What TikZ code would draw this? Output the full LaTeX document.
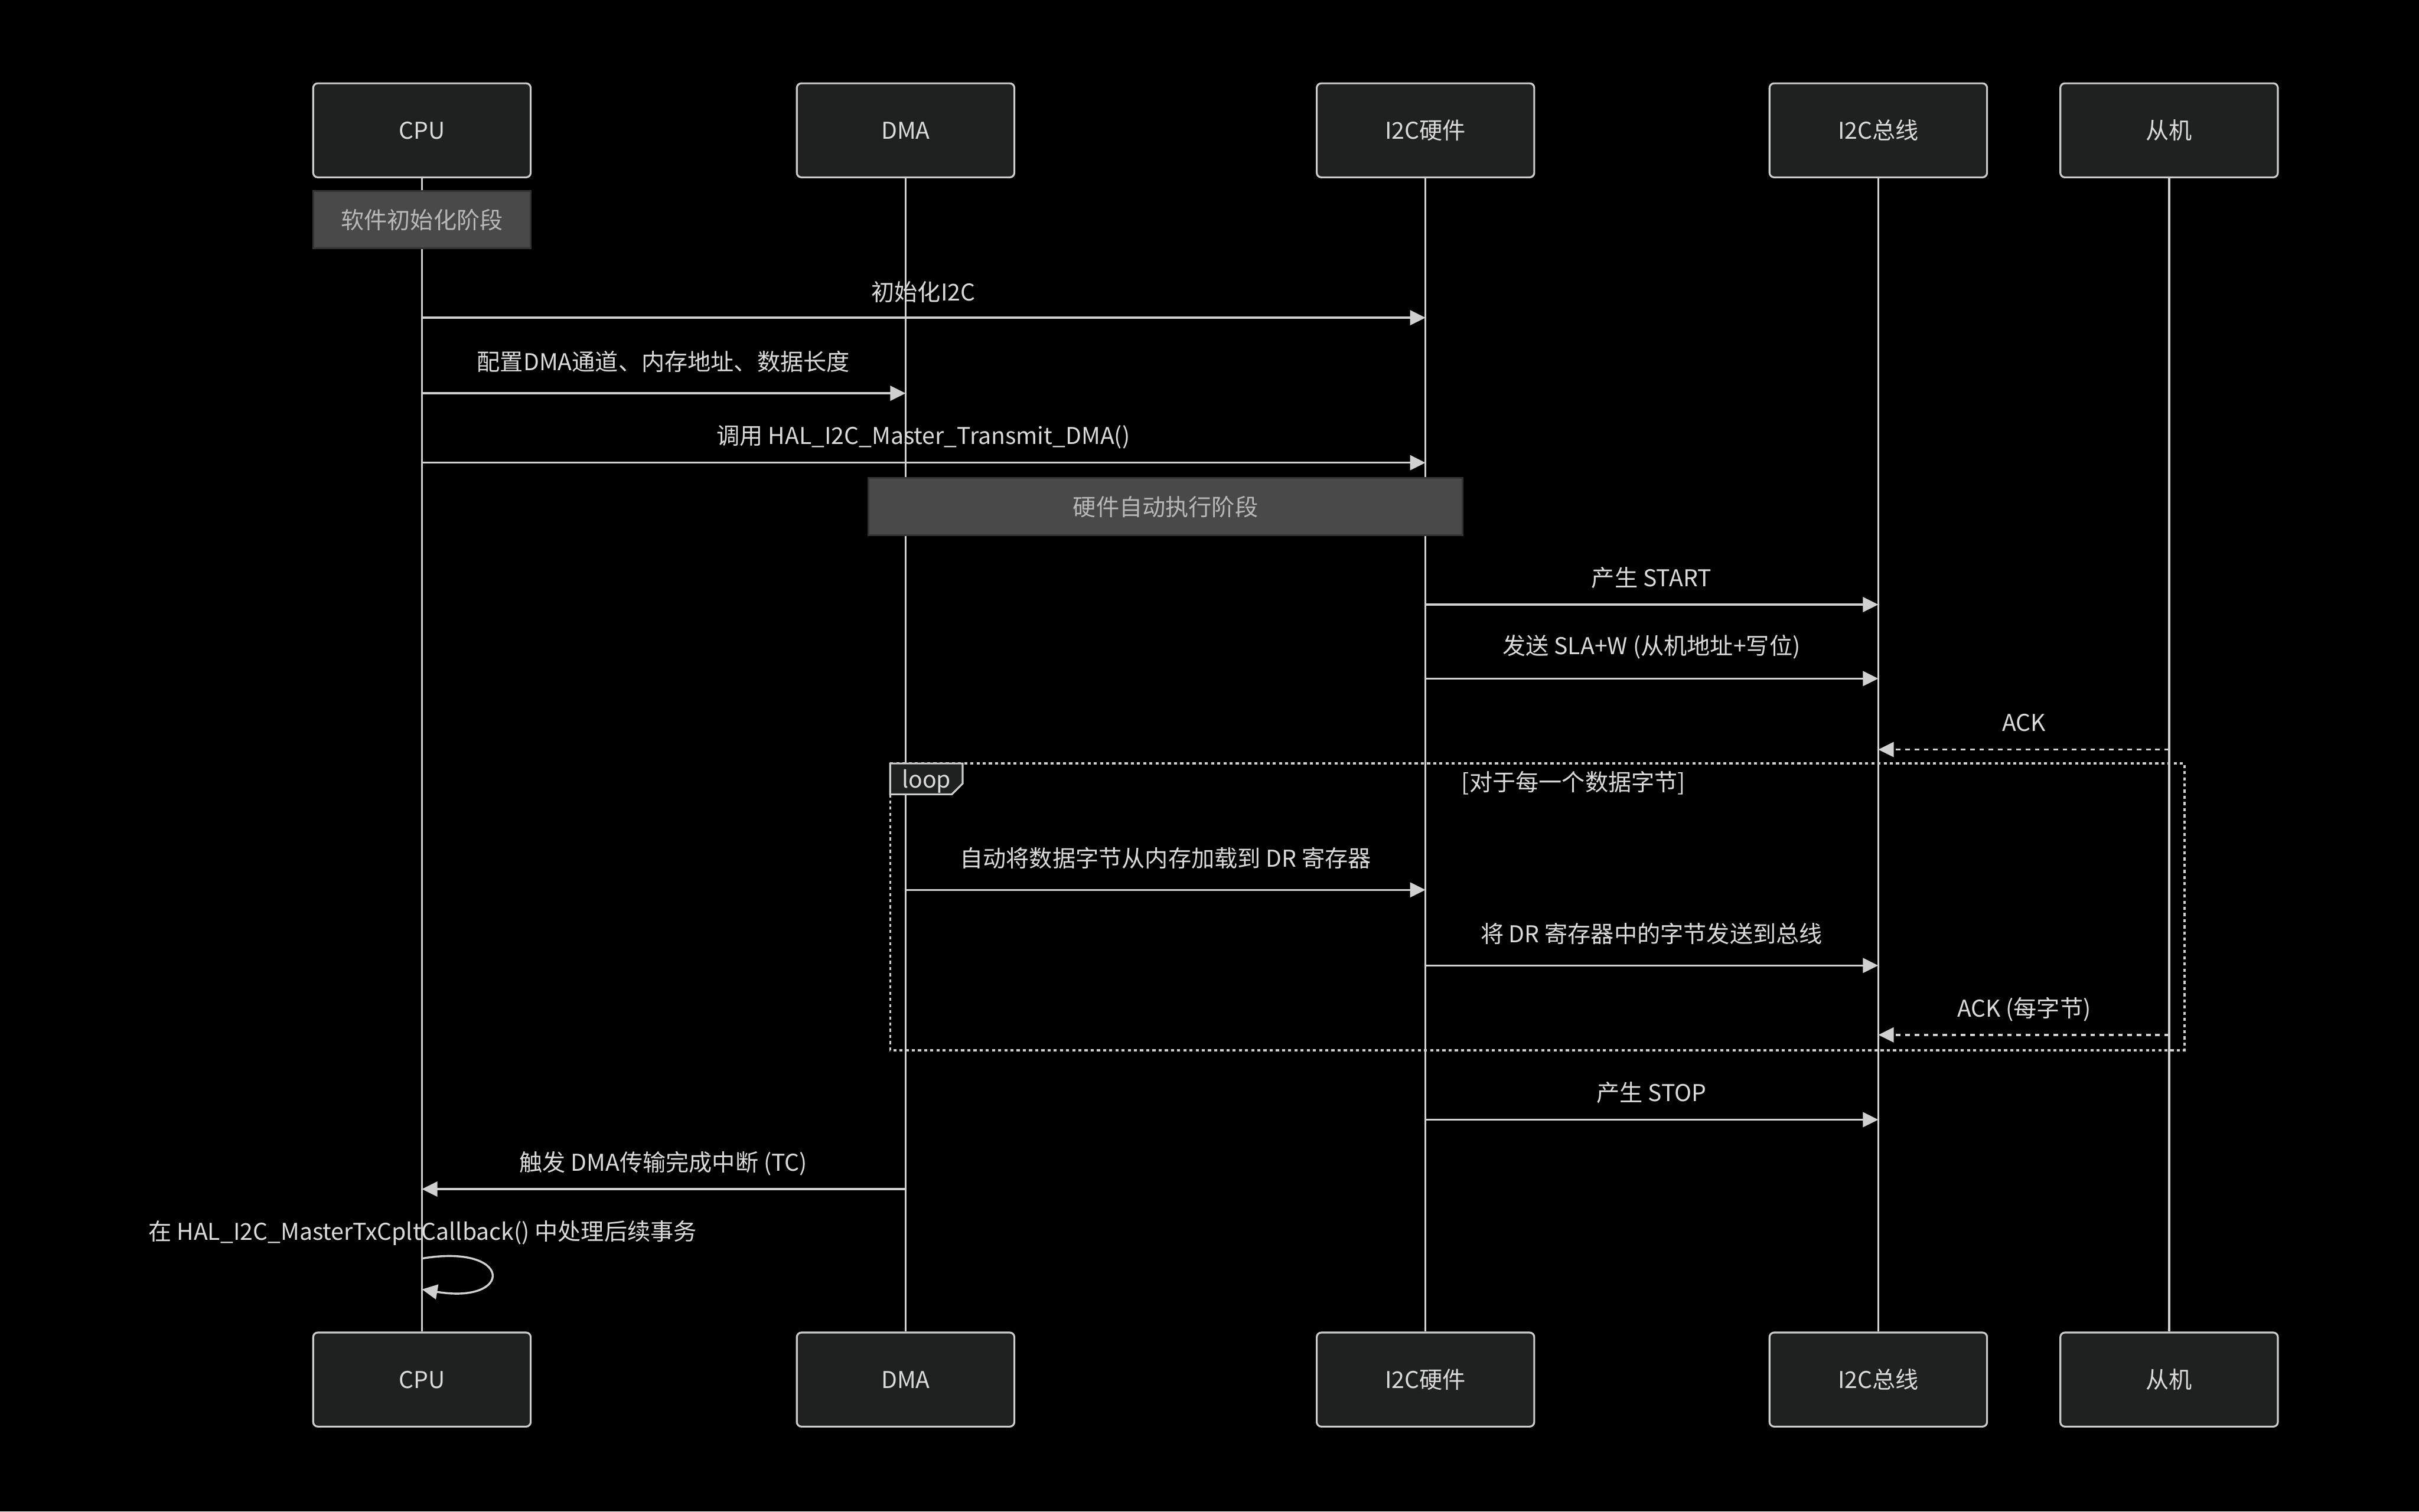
\documentclass[tikz,border=0pt]{standalone}
\usepackage{fontspec}
\setmainfont{Noto Sans CJK SC}
\usetikzlibrary{arrows.meta}
\definecolor{actfill}{HTML}{1F2020}
\definecolor{actline}{HTML}{CCCCCC}
\definecolor{txt}{HTML}{DADADA}
\definecolor{notefill}{HTML}{484948}
\definecolor{noteline}{HTML}{333333}
\definecolor{notetxt}{HTML}{B8B8B8}
\definecolor{wire}{HTML}{D0D0D0}
\tikzset{
  actor/.style={draw=actline, fill=actfill, line width=0.6pt, rounded corners=1.5pt,
    minimum width=70.5pt, minimum height=30.5pt, text=txt, inner sep=0pt},
  notebox/.style={draw=noteline, fill=notefill, line width=0.6pt,
    minimum height=18.5pt, text=notetxt, inner sep=0pt},
  life/.style={draw=wire, line width=0.65pt},
  msg/.style={draw=wire, line width=0.65pt, -{Triangle[length=5pt,width=4.8pt]}},
  reply/.style={msg, dash pattern=on 1.5pt off 1.5pt},
  lbl/.style={text=txt, inner sep=0pt},
  loopline/.style={draw=wire, line width=0.65pt, dash pattern=on 1pt off 1pt},
}
\begin{document}
\begin{tikzpicture}[x=0.5pt,y=-0.5pt, font=\fontsize{7.5}{9}\selectfont]
\fill[black] (0,0) rectangle (1568,980);
\useasboundingbox (0,0) rectangle (1568,980);
% actors
\node[actor] (cpuT) at (273.5,84.5) {CPU};
\node[actor] (dmaT) at (587,84.5) {DMA};
\node[actor] (hwT) at (924,84.5) {I2C硬件};
\node[actor] (busT) at (1217.5,84.5) {I2C总线};
\node[actor] (slvT) at (1406,84.5) {从机};
\node[actor] (cpuB) at (273.5,894.5) {CPU};
\node[actor] (dmaB) at (587,894.5) {DMA};
\node[actor] (hwB) at (924,894.5) {I2C硬件};
\node[actor] (busB) at (1217.5,894.5) {I2C总线};
\node[actor] (slvB) at (1406,894.5) {从机};
% lifelines
\draw[life] (cpuT) -- (cpuB);
\draw[life] (dmaT) -- (dmaB);
\draw[life] (hwT) -- (hwB);
\draw[life] (busT) -- (busB);
\draw[life] (slvT) -- (slvB);
% notes
\node[notebox, minimum width=70.5pt] (n1) at (273.5,142.5) {软件初始化阶段};
\node[notebox, minimum width=192.5pt] (n2) at (755.5,328.5) {硬件自动执行阶段};
% messages
\node[lbl] (l1) at (598.5,189.5) {初始化I2C};
\draw[msg] (cpuT |- 0,206) -- (hwT |- 0,206);
\node[lbl] (l2) at (430,234.5) {配置DMA通道、内存地址、数据长度};
\draw[msg] (cpuT |- 0,255) -- (dmaT |- 0,255);
\node[lbl] (l3) at (598.5,283.5) {调用 HAL\_I2C\_Master\_Transmit\_DMA()};
\draw[msg] (cpuT |- 0,300) -- (hwT |- 0,300);
\node[lbl] (l5) at (1070.5,374.5) {产生 START};
\draw[msg] (hwT |- 0,392) -- (busT |- 0,392);
\node[lbl] (l6) at (1070.5,419.5) {发送 SLA+W (从机地址+写位)};
\draw[msg] (hwT |- 0,440) -- (busT |- 0,440);
\node[lbl] (l7) at (1312,468.5) {ACK};
\draw[reply] (slvT |- 0,486) -- (busT |- 0,486);
% loop
\draw[loopline] (577,495) rectangle (1416,681);
\draw[draw=actline, fill=actfill, line width=0.6pt] (577,495) -- (624,495) -- (624,508) -- (617,515) -- (577,515) -- cycle;
\node[lbl] (lp) at (600.5,506.5) {loop};
\node[lbl] (lc) at (1020,507.5) {[对于每一个数据字节]};
\node[lbl] (l8) at (755.5,556.5) {自动将数据字节从内存加载到 DR 寄存器};
\draw[msg] (dmaT |- 0,577) -- (hwT |- 0,577);
\node[lbl] (l9) at (1070.5,605.5) {将 DR 寄存器中的字节发送到总线};
\draw[msg] (hwT |- 0,626) -- (busT |- 0,626);
\node[lbl] (l10) at (1312,654.5) {ACK (每字节)};
\draw[reply] (slvT |- 0,671) -- (busT |- 0,671);
\node[lbl] (l11) at (1070.5,708.5) {产生 STOP};
\draw[msg] (hwT |- 0,726) -- (busT |- 0,726);
\node[lbl] (l12) at (430,754.5) {触发 DMA传输完成中断 (TC)};
\draw[msg] (dmaT |- 0,771) -- (cpuT |- 0,771);
\node[lbl] (l13) at (274,799.5) {在 HAL\_I2C\_MasterTxCpltCallback() 中处理后续事务};
\draw[msg] (cpuT |- 0,816) .. controls (333,806) and (333,846) .. (cpuT |- 0,836);
\end{tikzpicture}
\end{document}
